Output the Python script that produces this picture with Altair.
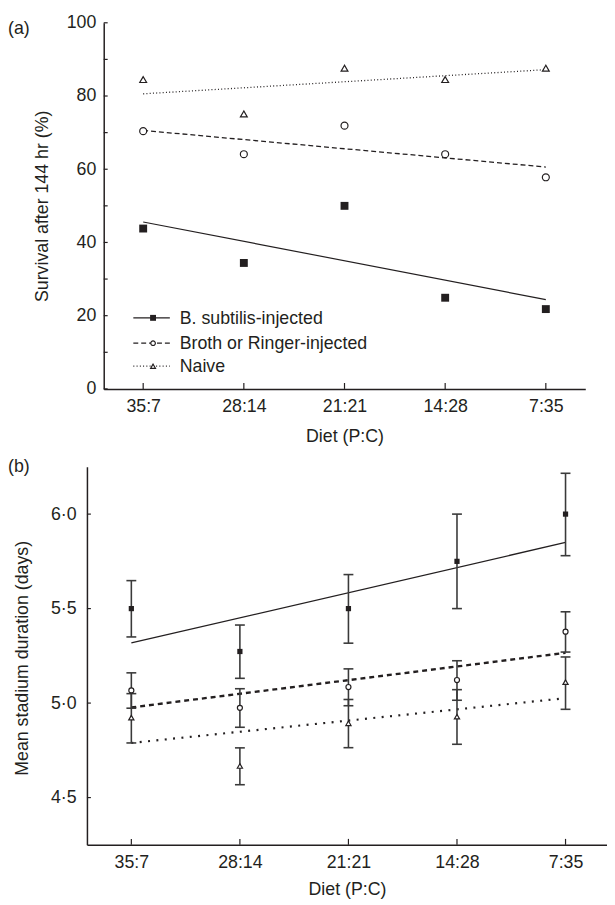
import json
import altair as alt
import pandas as pd

# ---------------- data ----------------
diets = ["35:7", "28:14", "21:21", "14:28", "7:35"]
diet_index = [0, 1, 2, 3, 4]
fit_index = [0, 4]
series_names = ["B. subtilis-injected", "Broth or Ringer-injected", "Naive"]

# panel (a): survival after 144 hr (%)
surv_subtilis = [43.8, 34.4, 50.0, 24.9, 21.8]
surv_broth = [70.4, 64.1, 71.9, 64.1, 57.8]
surv_naive = [84.5, 75.1, 87.6, 84.5, 87.6]
surv_fit_subtilis = [45.6, 24.4]
surv_fit_broth = [70.6, 60.6]
surv_fit_naive = [80.6, 87.2]
ya_tick_values = [0, 10, 20, 30, 40, 50, 60, 70, 80, 90, 100]
ya_label_values = [0, 20, 40, 60, 80, 100]

# panel (b): mean stadium duration (days)
dur_subtilis = [5.50, 5.273, 5.50, 5.75, 6.00]
dur_subtilis_lo = [5.35, 5.131, 5.317, 5.50, 5.78]
dur_subtilis_hi = [5.648, 5.413, 5.68, 6.00, 6.216]
dur_broth = [5.067, 4.975, 5.085, 5.122, 5.378]
dur_broth_lo = [4.973, 4.872, 4.986, 5.015, 5.270]
dur_broth_hi = [5.160, 5.076, 5.181, 5.224, 5.483]
dur_naive = [4.923, 4.667, 4.893, 4.928, 5.111]
dur_naive_lo = [4.789, 4.568, 4.764, 4.782, 4.967]
dur_naive_hi = [5.050, 4.763, 5.019, 5.071, 5.244]
dur_fit_subtilis = [5.318, 5.85]
dur_fit_broth = [4.977, 5.266]
dur_fit_naive = [4.789, 5.026]
yb_tick_values = [4.5, 5.0, 5.5, 6.0]

# ---------------- styles ----------------
INK = "#231f20"
BAR = "#3a3a3a"
FONT = "Liberation Sans"
FS = 18

W_A, H_A = 505, 371     # panel (a) plot box (its axes start 17 px inside)
A_OFF = 17
W_B, H_B = 527, 383

STY = {
    "B. subtilis-injected": dict(shape="square", open=False, dash_a=None, dash_b=None,
                                 w_a=1.2, w_b=1.3, size_a=64, size_b=28, size_leg=36),
    "Broth or Ringer-injected": dict(shape="circle", open=True, dash_a=[5, 3], dash_b=[5, 4],
                                     w_a=1.3, w_b=2.4, size_a=50, size_b=26, size_leg=22),
    "Naive": dict(shape="triangle-up", open=True, dash_a=[1, 2.3], dash_b=[2, 6.5],
                  w_a=1.3, w_b=2.2, size_a=48, size_b=28, size_leg=24),
}

surv_vals = {series_names[0]: surv_subtilis, series_names[1]: surv_broth, series_names[2]: surv_naive}
surv_fits = {series_names[0]: surv_fit_subtilis, series_names[1]: surv_fit_broth, series_names[2]: surv_fit_naive}
dur_vals = {series_names[0]: (dur_subtilis, dur_subtilis_lo, dur_subtilis_hi),
            series_names[1]: (dur_broth, dur_broth_lo, dur_broth_hi),
            series_names[2]: (dur_naive, dur_naive_lo, dur_naive_hi)}
dur_fits = {series_names[0]: dur_fit_subtilis, series_names[1]: dur_fit_broth, series_names[2]: dur_fit_naive}

diet_label_expr = json.dumps(diets) + "[datum.value]"


def line_kwargs(dash, w):
    kw = dict(color=INK, strokeWidth=w)
    if dash:
        kw["strokeDash"] = dash
    return kw


def point_kwargs(st, size):
    if st["open"]:
        return dict(shape=st["shape"], filled=True, fill="white", stroke=INK,
                    strokeWidth=1.2, size=size, opacity=1)
    return dict(shape=st["shape"], filled=True, color=INK, size=size, opacity=1)


# ---------------- panel (a) ----------------
xa_scale = alt.Scale(domain=[-0.392, 4.392], range=[A_OFF, W_A], nice=False, zero=False)
ya_scale = alt.Scale(domain=[0, 100], nice=False)
xa_axis = alt.Axis(title="Diet (P:C)", values=diet_index, labelExpr=diet_label_expr, labelAngle=0,
                   ticks=False, tickSize=0, labelPadding=9, titlePadding=12)
ya_axis = alt.Axis(title="Survival after 144 hr (%)", values=ya_label_values, ticks=False, tickSize=0,
                   offset=-A_OFF, labelPadding=8, titleX=-61.5, titleY=H_A / 2, titleBaseline="middle")


def XA():
    return alt.X("i:Q", scale=xa_scale, axis=xa_axis)


def YA(field="v"):
    return alt.Y(f"{field}:Q", scale=ya_scale, axis=ya_axis)


layers_a = []
for name in series_names:
    st = STY[name]
    df_fit = pd.DataFrame({"i": fit_index, "v": surv_fits[name]})
    layers_a.append(alt.Chart(df_fit).mark_line(**line_kwargs(st["dash_a"], st["w_a"])).encode(x=XA(), y=YA()))
for name in series_names:
    st = STY[name]
    df = pd.DataFrame({"i": diet_index, "diet": diets, "v": surv_vals[name]})
    layers_a.append(alt.Chart(df).mark_point(**point_kwargs(st, st["size_a"])).encode(x=XA(), y=YA()))

# inward ticks
layers_a.append(alt.Chart(pd.DataFrame({"i": diet_index})).mark_rule(color=INK, strokeWidth=1.2).encode(
    x=XA(), y=alt.value(H_A), y2=alt.value(H_A - 6)))
layers_a.append(alt.Chart(pd.DataFrame({"v": ya_tick_values})).mark_rule(color=INK, strokeWidth=1.2).encode(
    y=YA(), x=alt.value(A_OFF), x2=alt.value(A_OFF + 4)))

# legend
leg_rows = [299, 324.7, 348]
for name, row in zip(series_names, leg_rows):
    st = STY[name]
    d1 = pd.DataFrame({"name": [name]})
    layers_a.append(alt.Chart(d1).mark_rule(**line_kwargs(st["dash_a"], 1.2)).encode(
        x=alt.value(47), x2=alt.value(84), y=alt.value(row)))
    layers_a.append(alt.Chart(d1).mark_point(**point_kwargs(st, st["size_leg"])).encode(
        x=alt.value(67), y=alt.value(row)))
    layers_a.append(alt.Chart(d1).mark_text(align="left", baseline="middle", font=FONT, fontSize=FS,
                                            color=INK).encode(
        text="name:N", x=alt.value(94), y=alt.value(row + 1.3)))

layers_a.append(alt.Chart(pd.DataFrame({"t": ["(a)"]})).mark_text(
    align="left", baseline="middle", font=FONT, fontSize=FS, color=INK).encode(
    text="t:N", x=alt.value(-80), y=alt.value(6.2)))

panel_a = alt.layer(*layers_a).properties(width=W_A, height=H_A)

# ---------------- panel (b) ----------------
xb_scale = alt.Scale(domain=[-0.409, 4.382], nice=False, zero=False)
yb_scale = alt.Scale(domain=[4.25, 6.25], nice=False, zero=False)
xb_axis = alt.Axis(title="Diet (P:C)", values=diet_index, labelExpr=diet_label_expr, labelAngle=0,
                   ticks=False, tickSize=0, labelPadding=8.5, titlePadding=10)
yb_axis = alt.Axis(title="Mean stadium duration (days)", values=yb_tick_values, ticks=False, tickSize=0,
                   labelPadding=11, labelExpr="replace(format(datum.value, '.1f'), '.', '·')",
                   titleX=-65.5, titleY=H_B / 2 + 2, titleBaseline="middle")


def XB():
    return alt.X("i:Q", scale=xb_scale, axis=xb_axis)


def YB(field="v"):
    return alt.Y(f"{field}:Q", scale=yb_scale, axis=yb_axis)


layers_b = []
for name in series_names:
    st = STY[name]
    df_fit = pd.DataFrame({"i": fit_index, "v": dur_fits[name]})
    layers_b.append(alt.Chart(df_fit).mark_line(**line_kwargs(st["dash_b"], st["w_b"])).encode(x=XB(), y=YB()))
for name in series_names:
    m, lo, hi = dur_vals[name]
    df = pd.DataFrame({"i": diet_index, "diet": diets, "v": m, "lo": lo, "hi": hi})
    layers_b.append(alt.Chart(df).mark_rule(color=BAR, strokeWidth=1.6).encode(
        x=XB(), y=YB("lo"), y2="hi:Q"))
    layers_b.append(alt.Chart(df).mark_tick(orient="horizontal", size=10, thickness=1.6, color=BAR,
                                            opacity=1).encode(x=XB(), y=YB("lo")))
    layers_b.append(alt.Chart(df).mark_tick(orient="horizontal", size=10, thickness=1.6, color=BAR,
                                            opacity=1).encode(x=XB(), y=YB("hi")))
for name in series_names:
    st = STY[name]
    m, lo, hi = dur_vals[name]
    df = pd.DataFrame({"i": diet_index, "diet": diets, "v": m})
    layers_b.append(alt.Chart(df).mark_point(**point_kwargs(st, st["size_b"])).encode(x=XB(), y=YB()))

layers_b.append(alt.Chart(pd.DataFrame({"i": diet_index})).mark_rule(color=INK, strokeWidth=1.2).encode(
    x=XB(), y=alt.value(H_B), y2=alt.value(H_B - 6)))
layers_b.append(alt.Chart(pd.DataFrame({"v": yb_tick_values})).mark_rule(color=INK, strokeWidth=1.2).encode(
    y=YB(), x=alt.value(0), x2=alt.value(4)))

layers_b.append(alt.Chart(pd.DataFrame({"t": ["(b)"]})).mark_text(
    align="left", baseline="middle", font=FONT, fontSize=FS, color=INK).encode(
    text="t:N", x=alt.value(-80), y=alt.value(0.2)))

panel_b = alt.layer(*layers_b).properties(width=W_B, height=H_B)

chart = alt.vconcat(panel_a, panel_b, spacing=13).properties(
    padding={"left": 0, "right": 0, "top": 0, "bottom": 0},
    background="white",
).configure_view(stroke=None).configure_axis(
    labelFont=FONT, labelFontSize=FS, labelColor=INK,
    titleFont=FONT, titleFontSize=FS, titleFontWeight="normal", titleColor=INK,
    domainColor=INK, domainWidth=1.5, grid=False,
)

chart.save("out.html", embed_options={"renderer": "svg", "actions": False})
